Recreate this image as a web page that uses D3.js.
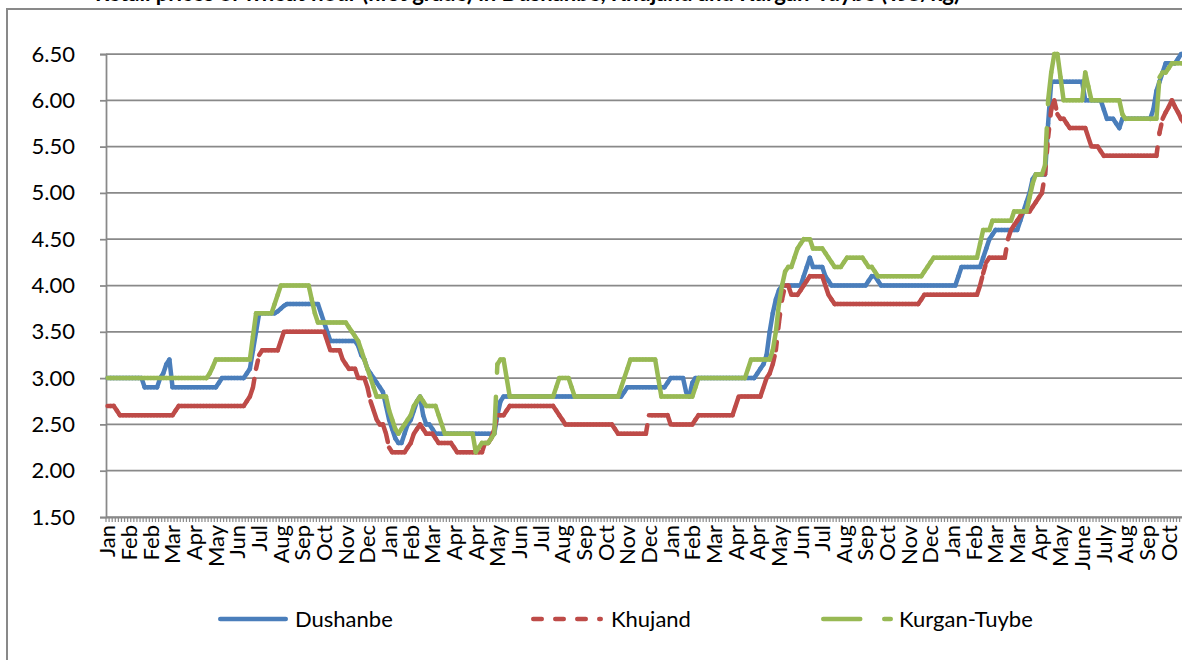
<!DOCTYPE html>
<html><head><meta charset="utf-8">
<script src="https://cdn.jsdelivr.net/npm/d3@7"></script>
<style>
html,body{margin:0;padding:0;background:#fff;}
svg{display:block;font-family:Lato,"Open Sans",sans-serif;}
</style></head><body>
<svg id="chart" width="1182" height="660"></svg>
<script>
const titleText = "Retail prices of wheat flour (first grade) in Dushanbe, Khujand and Kurgan-Tuybe (TJS/kg)";
const monthLabels = ["Jan","Feb","Feb","Mar","Apr","May","Jun","Jul","Aug","Sep","Oct","Nov","Dec",
  "Jan","Feb","Mar","Apr","Apr","May","Jun","Jul","Aug","Sep","Oct","Nov","Dec",
  "Jan","Feb","Mar","Apr","Apr","May","Jun","Jul","Aug","Sep","Oct","Nov","Dec",
  "Jan","Feb","Mar","Mar","Apr","May","June","July","Aug","Sep","Oct"];
const labelEvery = 7;
const yTicks = [1.5,2.0,2.5,3.0,3.5,4.0,4.5,5.0,5.5,6.0,6.5];
const seriesNames = ["Dushanbe","Khujand","Kurgan-Tuybe"];

const dushanbe = [
3.0,3.0,3.0,3.0,3.0,3.0,3.0,
3.0,3.0,3.0,3.0,3.0,2.9,2.9,
2.9,2.9,2.9,3.0,3.05,3.15,3.2,
2.9,2.9,2.9,2.9,2.9,2.9,2.9,
2.9,2.9,2.9,2.9,2.9,2.9,2.9,
2.9,2.95,3.0,3.0,3.0,3.0,3.0,
3.0,3.0,3.0,3.05,3.1,3.3,3.5,
3.7,3.7,3.7,3.7,3.7,3.7,3.72,
3.75,3.78,3.8,3.8,3.8,3.8,3.8,
3.8,3.8,3.8,3.8,3.8,3.8,3.7,
3.6,3.5,3.4,3.4,3.4,3.4,3.4,
3.4,3.4,3.4,3.4,3.35,3.25,3.2,
3.1,3.05,3.0,2.95,2.9,2.85,2.7,
2.55,2.45,2.35,2.3,2.3,2.4,2.5,
2.55,2.65,2.75,2.8,2.6,2.5,2.5,
2.45,2.4,2.4,2.4,2.4,2.4,2.4,
2.4,2.4,2.4,2.4,2.4,2.4,2.4,
2.4,2.4,2.4,2.4,2.4,2.4,2.4,
2.6,2.75,2.8,2.8,2.8,2.8,2.8,
2.8,2.8,2.8,2.8,2.8,2.8,2.8,
2.8,2.8,2.8,2.8,2.8,2.8,2.8,
2.8,2.8,2.8,2.8,2.8,2.8,2.8,
2.8,2.8,2.8,2.8,2.8,2.8,2.8,
2.8,2.8,2.8,2.8,2.8,2.8,2.85,
2.9,2.9,2.9,2.9,2.9,2.9,2.9,
2.9,2.9,2.9,2.9,2.9,2.9,2.95,
3.0,3.0,3.0,3.0,3.0,2.85,2.8,
2.95,3.0,3.0,3.0,3.0,3.0,3.0,
3.0,3.0,3.0,3.0,3.0,3.0,3.0,
3.0,3.0,3.0,3.0,3.0,3.0,3.0,
3.05,3.1,3.15,3.25,3.5,3.7,3.85,
3.95,4.0,4.0,4.0,4.0,4.0,4.0,
4.0,4.1,4.2,4.3,4.2,4.2,4.2,
4.2,4.1,4.05,4.0,4.0,4.0,4.0,
4.0,4.0,4.0,4.0,4.0,4.0,4.0,
4.0,4.05,4.1,4.1,4.05,4.0,4.0,
4.0,4.0,4.0,4.0,4.0,4.0,4.0,
4.0,4.0,4.0,4.0,4.0,4.0,4.0,
4.0,4.0,4.0,4.0,4.0,4.0,4.0,
4.0,4.0,4.1,4.2,4.2,4.2,4.2,
4.2,4.2,4.2,4.3,4.4,4.5,4.55,
4.6,4.6,4.6,4.6,4.6,4.6,4.6,
4.6,4.7,4.8,4.9,5.0,5.15,5.2,
5.2,5.2,5.2,5.75,6.2,6.2,6.2,
6.2,6.2,6.2,6.2,6.2,6.2,6.2,
6.2,6.0,6.0,6.0,6.0,6.0,6.0,
5.9,5.8,5.8,5.8,5.75,5.7,5.8,
5.8,5.8,5.8,5.8,5.8,5.8,5.8,
5.8,5.8,5.9,6.1,6.2,6.3,6.4,
6.4,6.4,6.4,6.45,6.5,6.5];

const khujand = [
2.7,2.7,2.7,2.65,2.6,2.6,2.6,
2.6,2.6,2.6,2.6,2.6,2.6,2.6,
2.6,2.6,2.6,2.6,2.6,2.6,2.6,
2.6,2.65,2.7,2.7,2.7,2.7,2.7,
2.7,2.7,2.7,2.7,2.7,2.7,2.7,
2.7,2.7,2.7,2.7,2.7,2.7,2.7,
2.7,2.7,2.7,2.75,2.8,2.9,3.1,
3.25,3.3,3.3,3.3,3.3,3.3,3.3,
3.4,3.5,3.5,3.5,3.5,3.5,3.5,
3.5,3.5,3.5,3.5,3.5,3.5,3.5,
3.5,3.4,3.3,3.3,3.3,3.3,3.2,
3.15,3.1,3.1,3.1,3.0,3.0,3.0,
2.9,2.75,2.65,2.55,2.5,2.5,2.4,
2.25,2.2,2.2,2.2,2.2,2.2,2.25,
2.3,2.4,2.45,2.5,2.45,2.4,2.4,
2.4,2.35,2.3,2.3,2.3,2.3,2.3,
2.25,2.2,2.2,2.2,2.2,2.2,2.2,
2.2,2.2,2.2,2.3,2.3,2.35,2.45,
2.6,2.6,2.6,2.65,2.7,2.7,2.7,
2.7,2.7,2.7,2.7,2.7,2.7,2.7,
2.7,2.7,2.7,2.7,2.7,2.65,2.6,
2.55,2.5,2.5,2.5,2.5,2.5,2.5,
2.5,2.5,2.5,2.5,2.5,2.5,2.5,
2.5,2.5,2.5,2.45,2.4,2.4,2.4,
2.4,2.4,2.4,2.4,2.4,2.4,2.4,
2.6,2.6,2.6,2.6,2.6,2.6,2.6,
2.5,2.5,2.5,2.5,2.5,2.5,2.5,
2.5,2.55,2.6,2.6,2.6,2.6,2.6,
2.6,2.6,2.6,2.6,2.6,2.6,2.6,
2.7,2.8,2.8,2.8,2.8,2.8,2.8,
2.8,2.8,2.9,3.0,3.05,3.15,3.3,
3.6,3.85,4.0,4.0,3.9,3.9,3.9,
3.95,4.0,4.05,4.1,4.1,4.1,4.1,
4.1,4.0,3.9,3.85,3.8,3.8,3.8,
3.8,3.8,3.8,3.8,3.8,3.8,3.8,
3.8,3.8,3.8,3.8,3.8,3.8,3.8,
3.8,3.8,3.8,3.8,3.8,3.8,3.8,
3.8,3.8,3.8,3.8,3.85,3.9,3.9,
3.9,3.9,3.9,3.9,3.9,3.9,3.9,
3.9,3.9,3.9,3.9,3.9,3.9,3.9,
3.9,3.9,4.0,4.13,4.25,4.3,4.3,
4.3,4.3,4.3,4.3,4.5,4.6,4.65,
4.7,4.75,4.8,4.8,4.8,4.85,4.9,
4.95,5.0,5.2,5.6,5.9,6.0,5.85,
5.8,5.8,5.75,5.7,5.7,5.7,5.7,
5.7,5.7,5.6,5.5,5.5,5.5,5.45,
5.4,5.4,5.4,5.4,5.4,5.4,5.4,
5.4,5.4,5.4,5.4,5.4,5.4,5.4,
5.4,5.4,5.4,5.4,5.65,5.8,5.87,
5.93,6.0,5.93,5.87,5.8,5.75];

const kurganTuybe = [
3.0,3.0,3.0,3.0,3.0,3.0,3.0,
3.0,3.0,3.0,3.0,3.0,3.0,3.0,
3.0,3.0,3.0,3.0,3.0,3.0,3.0,
3.0,3.0,3.0,3.0,3.0,3.0,3.0,
3.0,3.0,3.0,3.0,3.0,3.05,3.12,
3.2,3.2,3.2,3.2,3.2,3.2,3.2,
3.2,3.2,3.2,3.2,3.2,3.45,3.7,
3.7,3.7,3.7,3.7,3.7,3.8,3.9,
4.0,4.0,4.0,4.0,4.0,4.0,4.0,
4.0,4.0,4.0,3.85,3.7,3.6,3.6,
3.6,3.6,3.6,3.6,3.6,3.6,3.6,
3.6,3.55,3.5,3.45,3.4,3.3,3.2,
3.1,3.0,2.9,2.8,2.8,2.8,2.8,
2.65,2.55,2.45,2.4,2.45,2.5,2.55,
2.6,2.7,2.75,2.8,2.75,2.7,2.7,
2.7,2.7,2.6,2.5,2.4,2.4,2.4,
2.4,2.4,2.4,2.4,2.4,2.4,2.4,
2.2,2.25,2.3,2.3,2.3,2.35,2.4,
3.15,3.2,3.2,3.0,2.8,2.8,2.8,
2.8,2.8,2.8,2.8,2.8,2.8,2.8,
2.8,2.8,2.8,2.8,2.8,2.9,3.0,
3.0,3.0,3.0,2.9,2.8,2.8,2.8,
2.8,2.8,2.8,2.8,2.8,2.8,2.8,
2.8,2.8,2.8,2.8,2.8,2.9,3.0,
3.1,3.2,3.2,3.2,3.2,3.2,3.2,
3.2,3.2,3.2,3.0,2.8,2.8,2.8,
2.8,2.8,2.8,2.8,2.8,2.8,2.8,
2.8,2.9,3.0,3.0,3.0,3.0,3.0,
3.0,3.0,3.0,3.0,3.0,3.0,3.0,
3.0,3.0,3.0,3.0,3.1,3.2,3.2,
3.2,3.2,3.2,3.2,3.2,3.3,3.5,
3.8,4.0,4.15,4.2,4.2,4.3,4.4,
4.45,4.5,4.5,4.5,4.4,4.4,4.4,
4.4,4.35,4.3,4.25,4.2,4.2,4.2,
4.25,4.3,4.3,4.3,4.3,4.3,4.3,
4.25,4.2,4.2,4.15,4.1,4.1,4.1,
4.1,4.1,4.1,4.1,4.1,4.1,4.1,
4.1,4.1,4.1,4.1,4.1,4.15,4.2,
4.25,4.3,4.3,4.3,4.3,4.3,4.3,
4.3,4.3,4.3,4.3,4.3,4.3,4.3,
4.3,4.3,4.45,4.6,4.6,4.6,4.7,
4.7,4.7,4.7,4.7,4.7,4.7,4.8,
4.8,4.8,4.8,4.8,4.95,5.1,5.2,
5.2,5.2,5.3,6.0,6.3,6.5,6.5,
6.25,6.0,6.0,6.0,6.0,6.0,6.0,
6.0,6.3,6.15,6.0,6.0,6.0,6.0,
6.0,6.0,6.0,6.0,6.0,6.0,5.85,
5.8,5.8,5.8,5.8,5.8,5.8,5.8,
5.8,5.8,5.8,5.8,6.25,6.3,6.3,
6.35,6.4,6.4,6.4,6.4,6.4];

const colors = ["#4A7EBB","#BE4B48","#98B954"];
const dashes = [null, "8.5 13.5", "37 24"];
const lineW = 4.5;

const svg = d3.select("#chart");
const W = 1182, H = 660;
const n = dushanbe.length;
const step = 3.094;
const plotLeft = 106, plotTop = 54, plotBottom = 517;

const x = d3.scaleBand().domain(d3.range(n)).range([plotLeft, plotLeft + n*step]).paddingInner(0).paddingOuter(0);
const y = d3.scaleLinear().domain([1.5, 6.5]).range([plotBottom, plotTop]);
const cx = i => x(i) + x.bandwidth()/2;

// outer border
svg.append("path").attr("d", `M7,${H} V9 H${W}`).attr("fill","none").attr("stroke","#898989").attr("stroke-width",2);

// title (cropped at the top edge, as in the source image)
svg.append("text").attr("x", 95).attr("y", 1).attr("font-size", 22).attr("font-weight","bold")
  .attr("fill","#000").text(titleText);

// gridlines
svg.append("g").selectAll("line").data(yTicks).join("line")
  .attr("x1", plotLeft).attr("x2", W).attr("y1", d=>y(d)).attr("y2", d=>y(d))
  .attr("stroke","#898989").attr("stroke-width",1.75);

// y axis
const yAxis = d3.axisLeft(y).tickValues(yTicks).tickFormat(d3.format(".2f")).tickSize(6).tickPadding(25);
const gy = svg.append("g").attr("transform",`translate(${plotLeft},0)`).call(yAxis);
gy.select(".domain").attr("stroke","#898989").attr("stroke-width",1.75);
gy.selectAll(".tick line").attr("stroke","#898989").attr("stroke-width",1.75);
gy.selectAll(".tick text").attr("font-size",22).attr("font-family","Lato, sans-serif").attr("fill","#000");

// x axis
const xAxis = d3.axisBottom(x).tickSize(5).tickSizeOuter(0)
  .tickFormat(i => (i % labelEvery === 0 && monthLabels[i/labelEvery]) ? monthLabels[i/labelEvery] : "");
const gx = svg.append("g").attr("transform",`translate(0,${plotBottom})`).call(xAxis);
gx.select(".domain").attr("stroke","#898989").attr("stroke-width",1.75);
gx.selectAll(".tick line").attr("stroke","#898989").attr("stroke-width",1.2).attr("transform",`translate(${-x.bandwidth()/2},0)`);
gx.selectAll(".tick text").attr("font-size",22).attr("font-family","Lato, sans-serif").attr("fill","#000")
  .attr("transform","rotate(-90)").attr("x",-8).attr("y",0).attr("dy","0.36em").style("text-anchor","end");

// series, drawn segment by segment so the dash pattern restarts at each point (as in the source)
const line = d3.line().x(d=>cx(d[0])).y(d=>y(d[1]));
const allSeries = [dushanbe, khujand, kurganTuybe];
allSeries.forEach((vals, s) => {
  const segs = d3.range(vals.length-1).map(i => [[i, vals[i]],[i+1, vals[i+1]]]);
  const g = svg.append("g").attr("class","series s"+s);
  g.selectAll("path").data(segs).join("path")
    .attr("d", line).attr("fill","none").attr("stroke", colors[s])
    .attr("stroke-width", lineW).attr("stroke-linecap","round")
    .attr("stroke-dasharray", dashes[s]);
});

// legend
const legendItems = [
  {x1:220.25, x2:285.75, tx:295},
  {x1:533.25, x2:600.75, tx:611},
  {x1:823.25, x2:890.75, tx:899}
];
const lg = svg.append("g");
legendItems.forEach((it, s) => {
  lg.append("line").attr("x1",it.x1).attr("x2",it.x2).attr("y1",619).attr("y2",619)
    .attr("stroke",colors[s]).attr("stroke-width",lineW).attr("stroke-linecap","round")
    .attr("stroke-dasharray",dashes[s]);
  lg.append("text").attr("x",it.tx).attr("y",627).attr("font-size",22).attr("fill","#000").text(seriesNames[s]);
});
</script>
</body></html>
